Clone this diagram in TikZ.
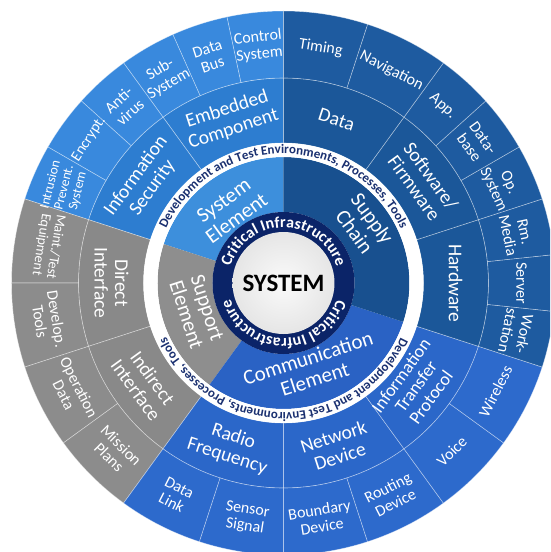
\documentclass[tikz,border=0pt]{standalone}
\usepackage{fontspec}
\setmainfont{Carlito}
\usetikzlibrary{decorations.text}
\definecolor{sysIn}{HTML}{3D8FDC}
\definecolor{sysMid}{HTML}{2D7DD0}
\definecolor{sysOut}{HTML}{3989DD}
\definecolor{supIn}{HTML}{8E8E8E}
\definecolor{supMid}{HTML}{898989}
\definecolor{supOut}{HTML}{8C8C8C}
\definecolor{comIn}{HTML}{2A62C4}
\definecolor{comMid}{HTML}{2B67C9}
\definecolor{comOut}{HTML}{2D6ACC}
\definecolor{splIn}{HTML}{18508F}
\definecolor{splMid}{HTML}{1B5799}
\definecolor{splOut}{HTML}{1E5BA0}
\definecolor{navy}{HTML}{0B2468}
\definecolor{ringtext}{HTML}{1A3070}
\tikzset{
  border/.style={draw=white, draw opacity=0.45, line width=0.6pt},
  lab/.style={text=white, align=center, inner sep=0pt, font=\fontsize{16}{17}\selectfont},
  smalllab/.style={lab, font=\fontsize{14}{14.5}\selectfont},
  midlab/.style={lab, font=\fontsize{19.5}{20.5}\selectfont},
  inlab/.style={lab, font=\fontsize{21}{22}\selectfont},
}
\newcommand\sect[5]{\fill[#5] (#3:#1pt) arc[start angle=#3,end angle=#4,radius=#1pt] -- (#4:#2pt) arc[start angle=#4,end angle=#3,radius=#2pt] -- cycle;}
\newcommand\bsect[5]{\filldraw[#5,border] (#3:#1pt) arc[start angle=#3,end angle=#4,radius=#1pt] -- (#4:#2pt) arc[start angle=#4,end angle=#3,radius=#2pt] -- cycle;}
\begin{document}
\begin{tikzpicture}[x=1pt,y=1pt]
\clip (-283.5,-269) rectangle (266.5,283);
\fill[white] (-283.5,-269) rectangle (266.5,283);
% inner ring
\sect{71}{126}{90}{162}{sysIn}
\sect{71}{126}{162}{234}{supIn}
\sect{71}{126}{234}{342}{comIn}
\sect{71}{126}{-18}{90}{splIn}
% middle ring
\bsect{140}{205}{90}{126}{sysMid}
\bsect{140}{205}{126}{162}{sysMid}
\bsect{140}{205}{162}{198}{supMid}
\bsect{140}{205}{198}{234}{supMid}
\bsect{140}{205}{234}{270}{comMid}
\bsect{140}{205}{270}{306}{comMid}
\bsect{140}{205}{306}{342}{comMid}
\bsect{140}{205}{-18}{18}{splMid}
\bsect{140}{205}{18}{54}{splMid}
\bsect{140}{205}{54}{90}{splMid}
% outer ring
\foreach \a in {90,102,114,126,138,150}{\pgfmathtruncatemacro\b{\a+12}\bsect{205}{272}{\a}{\b}{sysOut}}
\foreach \a in {162,180,198,216}{\pgfmathtruncatemacro\b{\a+18}\bsect{205}{272}{\a}{\b}{supOut}}
\foreach \a in {234,252,270,288,306,324}{\pgfmathtruncatemacro\b{\a+18}\bsect{205}{272}{\a}{\b}{comOut}}
\foreach \a in {-18,-6,6,18,30,42}{\pgfmathtruncatemacro\b{\a+12}\bsect{205}{272}{\a}{\b}{splOut}}
\foreach \a in {54,72}{\pgfmathtruncatemacro\b{\a+18}\bsect{205}{272}{\a}{\b}{splOut}}
% white ring
\fill[white, even odd rule] (0,0) circle[radius=140pt] (0,0) circle[radius=126pt];
% navy ring and centre
\fill[navy] (0,0) circle[radius=71pt];
\shade[inner color=gray!4, outer color=gray!20] (0,0) circle[radius=51pt];
\node[font=\fontsize{25}{25}\bfseries\selectfont, text=black] (system) at (0,0) {SYSTEM};
% ring texts
\path[decorate, decoration={text along path, text align=center, text color=white,
  text={|\fontsize{16}{16}\bfseries\selectfont|Critical Infrastructure}}]
  (180:55.5pt) arc[start angle=180, end angle=0, radius=55.5pt];
\path[decorate, decoration={text along path, text align=center, text color=white,
  text={|\fontsize{16}{16}\bfseries\selectfont|Critical Infrastructure}}]
  (0:55.5pt) arc[start angle=0, end angle=-180, radius=55.5pt];
\path[decorate, decoration={text along path, text align=center, text color=ringtext,
  text={|\fontsize{13}{13}\bfseries\selectfont|Development and Test Environments, Processes, Tools}}]
  (180:129.3pt) arc[start angle=180, end angle=0, radius=129.3pt];
\path[decorate, decoration={text along path, text align=center, text color=ringtext,
  text={|\fontsize{13}{13}\bfseries\selectfont|Development and Test Environments, Processes, Tools}}]
  (0:129.3pt) arc[start angle=0, end angle=-180, radius=129.3pt];
% inner labels
\node[inlab, rotate=36] (sysel) at (126:91) {System\\Element};
\node[inlab, rotate=-72] (supel) at (198:91) {Support\\Element};
\node[inlab, rotate=18] (comel) at (288:90) {Communication\\Element};
\node[inlab, rotate=-54] (splch) at (36:99) {Supply\\Chain};
% middle labels
\node[midlab, rotate=18] (embed) at (108:172) {Embedded\\Component};
\node[midlab, rotate=54] (infosec) at (144:172) {Information\\Security};
\node[midlab, rotate=-90] (direct) at (180:172) {Direct\\Interface};
\node[midlab, rotate=-54] (indirect) at (216:172) {Indirect\\Interface};
\node[midlab, rotate=-18] (radio) at (252:172) {Radio\\Frequency};
\node[midlab, rotate=18] (netdev) at (288:172) {Network\\Device};
\node[midlab, rotate=54, font=\fontsize{18}{18.5}\selectfont] (itp) at (322:168) {Information\\Transfer\\Protocol};
\node[midlab, rotate=-90] (hardware) at (0:172) {Hardware};
\node[midlab, rotate=-54] (software) at (36:172) {Software/\\Firmware};
\node[midlab, rotate=-18] (data) at (72:172) {Data};
% outer labels
\node[lab, rotate=-9] (timing) at (81:238) {Timing};
\node[lab, rotate=-27] (navigation) at (63:238) {Navigation};
\node[lab, rotate=-42] (app) at (48:238) {App.};
\node[lab, rotate=-54] (database) at (36:238) {Data-\\base};
\node[lab, rotate=-66] (opsys) at (24:238) {Op.\\System};
\node[lab, rotate=-78] (rmmedia) at (12:238) {Rm.\\Media};
\node[lab, rotate=-90] (server) at (0:238) {Server};
\node[lab, rotate=-102] (workst) at (-12:238) {Work-\\station};
\node[lab, rotate=63] (wireless) at (333:238) {Wireless};
\node[lab, rotate=45] (voice) at (315:238) {Voice};
\node[lab, rotate=27] (routing) at (297:238) {Routing\\Device};
\node[lab, rotate=9] (boundary) at (279:238) {Boundary\\Device};
\node[lab, rotate=-9] (sensor) at (261:238) {Sensor\\Signal};
\node[lab, rotate=-27] (datalink) at (243:238) {Data\\Link};
\node[lab, rotate=-45] (mission) at (225:238) {Mission\\Plans};
\node[lab, rotate=-63] (opdata) at (207:238) {Operation\\Data};
\node[lab, rotate=-81] (develop) at (189:238) {Develop.\\Tools};
\node[smalllab, rotate=-99] (maint) at (171:238) {Maint./Test\\Equipment};
\node[smalllab, rotate=76, font=\fontsize{13.5}{14}\selectfont] (intrusion) at (156.5:239) {Intrusion\\Prevent.\\System};
\node[lab, rotate=57, font=\fontsize{15}{16}\selectfont] (encrypt) at (143.5:242) {Encrypt.};
\node[lab, rotate=42] (antivirus) at (132:238) {Anti-\\virus};
\node[lab, rotate=30] (subsys) at (120:238) {Sub-\\System};
\node[lab, rotate=18] (databus) at (108:238) {Data\\Bus};
\node[lab, rotate=6] (control) at (96:238) {Control\\System};
\end{tikzpicture}
\end{document}
